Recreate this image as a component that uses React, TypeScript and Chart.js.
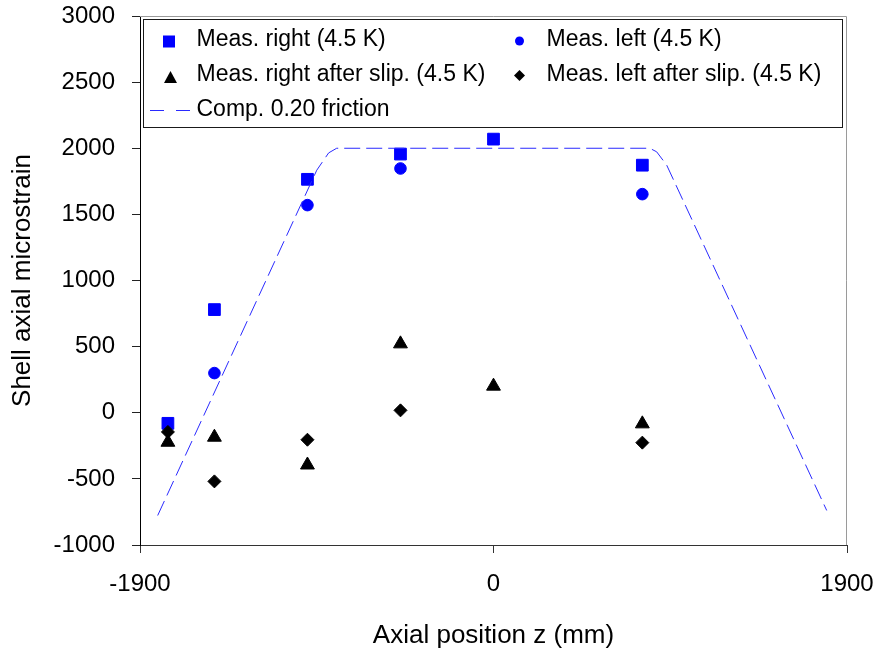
import React, { useEffect, useRef } from 'react';
import { Chart, registerables } from 'chart.js';

Chart.register(...registerables);

// ---- Data ----
const rightX = [-1750, -1500, -1000, -500, 0, 800];
const rightY = [-80, 780, 1765, 1956, 2069, 1872];

const leftX = [-1500, -1000, -500, 800];
const leftY = [300, 1570, 1847, 1653];

const rightSlipX = [-1750, -1500, -1000, -500, 0, 800];
const rightSlipY = [-223, -185, -395, 521, 201, -84];

const leftSlipX = [-1750, -1500, -1000, -500, 800];
const leftSlipY = [-145, -519, -204, 18, -226];

const compX = [-1805, -950, -886, -843, 840, 877, 931, 1791];
const compY = [-777, 1834, 1965, 2000, 2000, 1973, 1872, -739];

const xTicks = [-1900, 0, 1900];
const yTicks = [-1000, -500, 0, 500, 1000, 1500, 2000, 2500, 3000];

const seriesLabels = [
  'Meas. right (4.5 K)',
  'Meas. left (4.5 K)',
  'Meas. right after slip. (4.5 K)',
  'Meas. left after slip. (4.5 K)',
  'Comp. 0.20 friction',
];

const xTitle = 'Axial position z (mm)';
const yTitle = 'Shell axial microstrain';

const FONT = '"Liberation Sans", Arial, sans-serif';
const BLUE = '#0000ff';
const LINE_BLUE = '#2a2aff';

const zip = (xs: number[], ys: number[]) => xs.map((x, i) => ({ x, y: ys[i] }));

const plotBorderPlugin = {
  id: 'plotBorder',
  beforeDatasetsDraw(chart: any) {
    const { ctx, chartArea: a } = chart;
    ctx.save();
    ctx.strokeStyle = '#9a9a9a';
    ctx.lineWidth = 1;
    ctx.beginPath();
    ctx.moveTo(a.left, a.top + 0.5);
    ctx.lineTo(a.right - 0.5, a.top + 0.5);
    ctx.lineTo(a.right - 0.5, a.bottom);
    ctx.stroke();
    ctx.restore();
  },
};

const boxLegendPlugin = {
  id: 'boxLegend',
  afterDraw(chart: any) {
    const { ctx, chartArea: a } = chart;
    const bx = a.left + 3.5;
    const by = a.top + 3.5;
    const bw = a.right - a.left - 8;
    const bh = 108;
    ctx.save();
    ctx.fillStyle = '#ffffff';
    ctx.fillRect(bx, by, bw, bh);
    ctx.strokeStyle = '#1a1a1a';
    ctx.lineWidth = 1;
    ctx.setLineDash([]);
    ctx.strokeRect(bx, by, bw, bh);

    const col1 = a.left + 29;
    const col2 = a.left + 379.5;
    const text1 = a.left + 56.5;
    const text2 = a.left + 406.5;
    const rows = [a.top + 23.5, a.top + 59, a.top + 94];

    // square
    ctx.fillStyle = BLUE;
    ctx.fillRect(col1 - 6, rows[0] - 4, 12, 12);
    // circle
    ctx.beginPath();
    ctx.arc(col2, rows[0] + 1.5, 4.5, 0, Math.PI * 2);
    ctx.fill();
    // triangle
    ctx.fillStyle = '#000';
    ctx.beginPath();
    ctx.moveTo(col1 + 1.5, rows[1] - 4);
    ctx.lineTo(col1 + 8, rows[1] + 8);
    ctx.lineTo(col1 - 5, rows[1] + 8);
    ctx.closePath();
    ctx.fill();
    // diamond
    ctx.beginPath();
    ctx.moveTo(col2, rows[1] - 5);
    ctx.lineTo(col2 + 5.5, rows[1] + 0.5);
    ctx.lineTo(col2, rows[1] + 6);
    ctx.lineTo(col2 - 5.5, rows[1] + 0.5);
    ctx.closePath();
    ctx.fill();
    // dashed line
    ctx.strokeStyle = LINE_BLUE;
    ctx.lineWidth = 1;
    ctx.setLineDash([14, 12]);
    ctx.beginPath();
    ctx.moveTo(col1 - 19, rows[2] + 0.5);
    ctx.lineTo(col1 + 21, rows[2] + 0.5);
    ctx.stroke();
    ctx.setLineDash([]);

    ctx.fillStyle = '#000';
    ctx.font = `23px ${FONT}`;
    ctx.textBaseline = 'middle';
    ctx.textAlign = 'left';
    ctx.fillText(seriesLabels[0], text1, rows[0]);
    ctx.fillText(seriesLabels[1], text2, rows[0]);
    ctx.fillText(seriesLabels[2], text1, rows[1]);
    ctx.fillText(seriesLabels[3], text2, rows[1]);
    ctx.fillText(seriesLabels[4], text1, rows[2]);
    ctx.restore();
  },
};

export default function App() {
  const ref = useRef<HTMLCanvasElement | null>(null);

  useEffect(() => {
    document.body.style.margin = '0';
    if (!ref.current) return;
    Chart.defaults.font.family = FONT;
    Chart.defaults.color = '#000';

    const chart = new Chart(ref.current, {
      type: 'scatter',
      data: {
        datasets: [
          {
            label: seriesLabels[0],
            data: zip(rightX, rightY),
            pointStyle: 'rect',
            pointRadius: 8.3,
            backgroundColor: BLUE,
            borderColor: BLUE,
            borderWidth: 1,
            showLine: false,
            order: 5,
          },
          {
            label: seriesLabels[1],
            data: zip(leftX, leftY),
            pointStyle: 'circle',
            pointRadius: 5.8,
            backgroundColor: BLUE,
            borderColor: BLUE,
            borderWidth: 1,
            showLine: false,
            order: 4,
          },
          {
            label: seriesLabels[2],
            data: zip(rightSlipX, rightSlipY),
            pointStyle: 'triangle',
            pointRadius: 8,
            backgroundColor: '#000',
            borderColor: '#000',
            borderWidth: 1,
            showLine: false,
            order: 3,
          },
          {
            label: seriesLabels[3],
            data: zip(leftSlipX, leftSlipY),
            pointStyle: 'rectRot',
            pointRadius: 6.5,
            backgroundColor: '#000',
            borderColor: '#000',
            borderWidth: 1,
            showLine: false,
            order: 2,
          },
          {
            label: seriesLabels[4],
            data: zip(compX, compY),
            showLine: true,
            pointRadius: 0,
            borderColor: LINE_BLUE,
            borderWidth: 1,
            borderDash: [16, 6],
            fill: false,
            tension: 0,
            order: 1,
          },
        ],
      },
      options: {
        responsive: false,
        animation: false,
        devicePixelRatio: 1,
        layout: { padding: { top: 16, right: 28, left: 0, bottom: 0 } },
        plugins: {
          legend: { display: false },
          tooltip: { enabled: false },
        },
        scales: {
          x: {
            type: 'linear',
            min: -1900,
            max: 1900,
            afterBuildTicks: (s: any) => {
              s.ticks = xTicks.map((v) => ({ value: v }));
            },
            afterFit: (s: any) => {
              s.height = 104;
              s.paddingLeft = 0;
              s.paddingRight = 0;
            },
            ticks: {
              font: { size: 24 },
              color: '#000',
              padding: 17,
              maxRotation: 0,
              autoSkip: false,
              callback: (v: any) => String(v),
            },
            grid: {
              drawOnChartArea: false,
              drawTicks: true,
              tickLength: 8,
              color: '#333',
            },
            border: { display: true, color: '#333', width: 1 },
            title: {
              display: true,
              text: xTitle,
              font: { size: 26, lineHeight: 0.87 },
              color: '#000',
              padding: { top: 0, bottom: 2 },
            },
          },
          y: {
            type: 'linear',
            min: -1000,
            max: 3000,
            afterBuildTicks: (s: any) => {
              s.ticks = yTicks.map((v) => ({ value: v }));
            },
            afterFit: (s: any) => {
              s.width = 140;
              s.paddingTop = 0;
              s.paddingBottom = 0;
            },
            ticks: {
              font: { size: 24 },
              color: '#000',
              padding: 17,
              autoSkip: false,
              callback: (v: any) => String(v),
            },
            grid: {
              drawOnChartArea: false,
              drawTicks: true,
              tickLength: 8,
              color: '#222',
            },
            border: { display: true, color: '#000', width: 1 },
            title: {
              display: true,
              text: yTitle,
              font: { size: 26, lineHeight: 1.2 },
              color: '#000',
              padding: { top: 7, bottom: 0 },
            },
          },
        },
      },
      plugins: [plotBorderPlugin, boxLegendPlugin],
    } as any);

    return () => chart.destroy();
  }, []);

  return (
    <div style={{ width: 875, height: 649, background: '#fff' }}>
      <canvas ref={ref} width={875} height={649} style={{ display: 'block', width: 875, height: 649 }} />
    </div>
  );
}
